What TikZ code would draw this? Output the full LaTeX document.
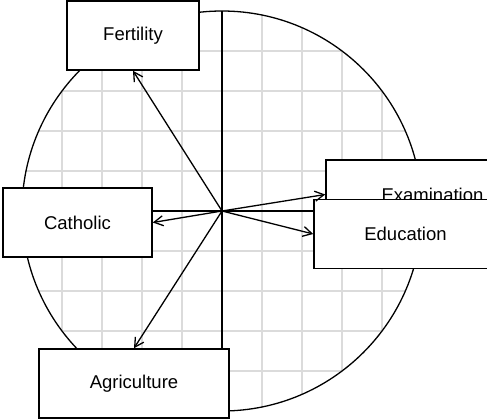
\documentclass[tikz,border=0pt]{standalone}
\usepackage{fontspec}
\setmainfont{Liberation Sans}
\usetikzlibrary{arrows.meta}

\tikzset{
  varbox/.style={draw, fill=white, line width=1.6pt, minimum height=69pt, inner sep=0pt,
    font=\fontsize{18.5}{22}\selectfont},
  arr/.style={-{Straight Barb[length=9pt,width=10pt]}, line width=1.3pt},
  gridline/.style={gray!28, line width=1.6pt},
}

\begin{document}
\begin{tikzpicture}[x=1pt,y=-1pt]
\clip (0,0) rectangle (487,420);
\coordinate (O) at (222,211);

%\draw [draw=red] (0,0) rectangle (487,420);
\begin{scope}
\clip (O) circle (200pt);
\foreach \k in {-5,...,5} {
  \draw[gridline] (222+40*\k,0) -- (222+40*\k,420);
  \draw[gridline] (0,211+40*\k) -- (487,211+40*\k);
}
\end{scope}

\draw[line width=1.3pt] (O) circle (200pt);
\draw[line width=1.3pt] (222,11) -- (222,411);
\draw[line width=1.3pt] (22,211) -- (422,211);

\node[varbox, minimum width=132pt] (Fert) at (133,35.5) {Fertility};
\node[varbox, minimum width=149pt] (Cath) at (77.5,222.5) {Catholic};
\node[varbox, minimum width=190pt] (Agri) at (134,383.5) {Agriculture};
\node[varbox, minimum width=213pt] (Exam) at (432.5,194.5) {Examination};
\node[varbox, minimum width=183pt] (Educ) at (405.5,234) {Education};

\draw[arr] (O) -- (Fert.south);
\draw[arr] (O) -- (Cath.east);
\draw[arr] (O) -- (Agri.north);
\draw[arr] (O) -- (Exam.west);
\draw[arr] (O) -- (Educ.west);

\end{tikzpicture}
\end{document}
